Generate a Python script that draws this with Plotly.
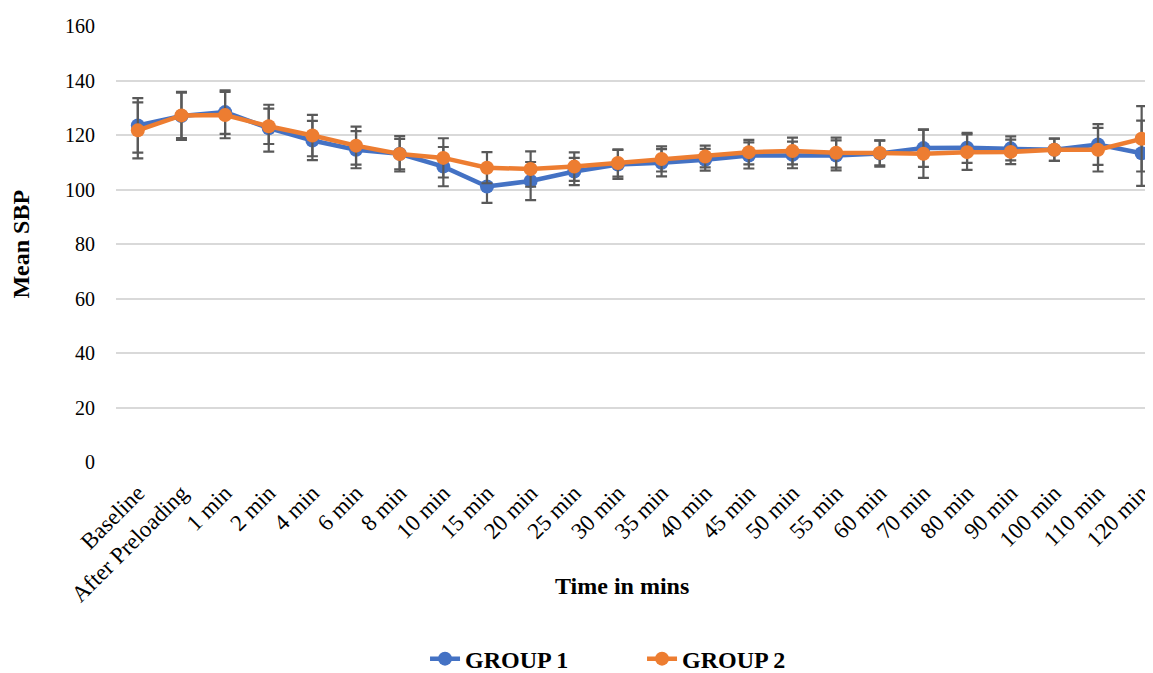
import plotly.graph_objects as go

categories = ["Baseline", "After Preloading", "1 min", "2 min", "4 min", "6 min", "8 min",
              "10 min", "15 min", "20 min", "25 min", "30 min", "35 min", "40 min", "45 min",
              "50 min", "55 min", "60 min", "70 min", "80 min", "90 min", "100 min", "110 min",
              "120 min"]

group1_mean = [123.5, 127.0, 128.4, 122.5, 118.0, 114.6, 113.1, 108.4, 101.1, 103.1, 106.6, 109.2,
               109.8, 110.9, 112.5, 112.7, 112.5, 113.2, 115.2, 115.3, 115.1, 114.6, 116.5, 113.3]
group1_sd = [10.0, 8.8, 8.0, 8.6, 7.2, 6.8, 6.5, 7.2, 6.0, 7.0, 5.0, 5.3,
             5.0, 4.0, 4.8, 4.9, 5.5, 4.8, 6.9, 5.5, 4.4, 4.1, 7.5, 12.0]

group2_mean = [121.7, 127.2, 127.3, 123.2, 119.8, 116.1, 113.0, 111.6, 108.0, 107.5, 108.4, 109.7,
               111.2, 112.1, 113.7, 114.1, 113.5, 113.4, 113.1, 113.7, 113.8, 114.6, 114.6, 118.6]
group2_sd = [10.3, 8.3, 8.5, 6.5, 7.6, 7.0, 5.6, 7.2, 5.7, 6.5, 5.2, 5.0,
             4.6, 4.0, 4.5, 4.9, 5.5, 4.5, 8.8, 6.5, 4.5, 4.1, 8.0, 12.0]

y_ticks = [0, 20, 40, 60, 80, 100, 120, 140, 160]

FONT = "Liberation Serif"
ERR = "#595959"

fig = go.Figure()
fig.add_trace(go.Scatter(
    x=categories, y=group1_mean, name="GROUP 1", mode="lines+markers",
    line=dict(color="#4472C4", width=4.5),
    marker=dict(color="#4472C4", size=14),
    error_y=dict(type="data", array=group1_sd, color=ERR, thickness=2.2, width=5.5),
))
fig.add_trace(go.Scatter(
    x=categories, y=group2_mean, name="GROUP 2", mode="lines+markers",
    line=dict(color="#ED7D31", width=4.5),
    marker=dict(color="#ED7D31", size=14),
    error_y=dict(type="data", array=group2_sd, color=ERR, thickness=2.2, width=5.5),
))

fig.update_layout(
    width=1145, height=665,
    margin=dict(l=108, r=0, t=18, b=211, autoexpand=False),
    paper_bgcolor="white", plot_bgcolor="white",
    font=dict(family=FONT, color="black", size=20),
    showlegend=True,
    legend=dict(orientation="h", x=0.298, xanchor="left", y=-0.452, yanchor="middle",
                font=dict(family=FONT, size=24, weight="bold"), entrywidth=172,
                bgcolor="rgba(0,0,0,0)"),
    xaxis=dict(type="category", categoryorder="array", categoryarray=categories,
               range=[-0.5, 23.26], tickangle=-45, showgrid=False, showline=False,
               zeroline=False, ticks="", ticklabelstandoff=12, automargin=False,
               tickfont=dict(family=FONT, size=23)),
    yaxis=dict(range=[0, 160], tickvals=y_ticks, showgrid=True, gridcolor="#D9D9D9",
               gridwidth=1.5, zeroline=False, showline=False, ticks="", automargin=False,
               ticklabelstandoff=20, tickfont=dict(family=FONT, size=20)),
    annotations=[
        dict(text="<b>Time in mins</b>", xref="paper", yref="paper", x=0.488, y=-0.285,
             xanchor="center", yanchor="middle", showarrow=False,
             font=dict(family=FONT, size=24)),
        dict(text="<b>Mean SBP</b>", xref="paper", yref="paper", x=-0.092, y=0.5,
             xanchor="center", yanchor="middle", textangle=-90, showarrow=False,
             font=dict(family=FONT, size=24)),
    ],
)

fig.write_html("out.html")
